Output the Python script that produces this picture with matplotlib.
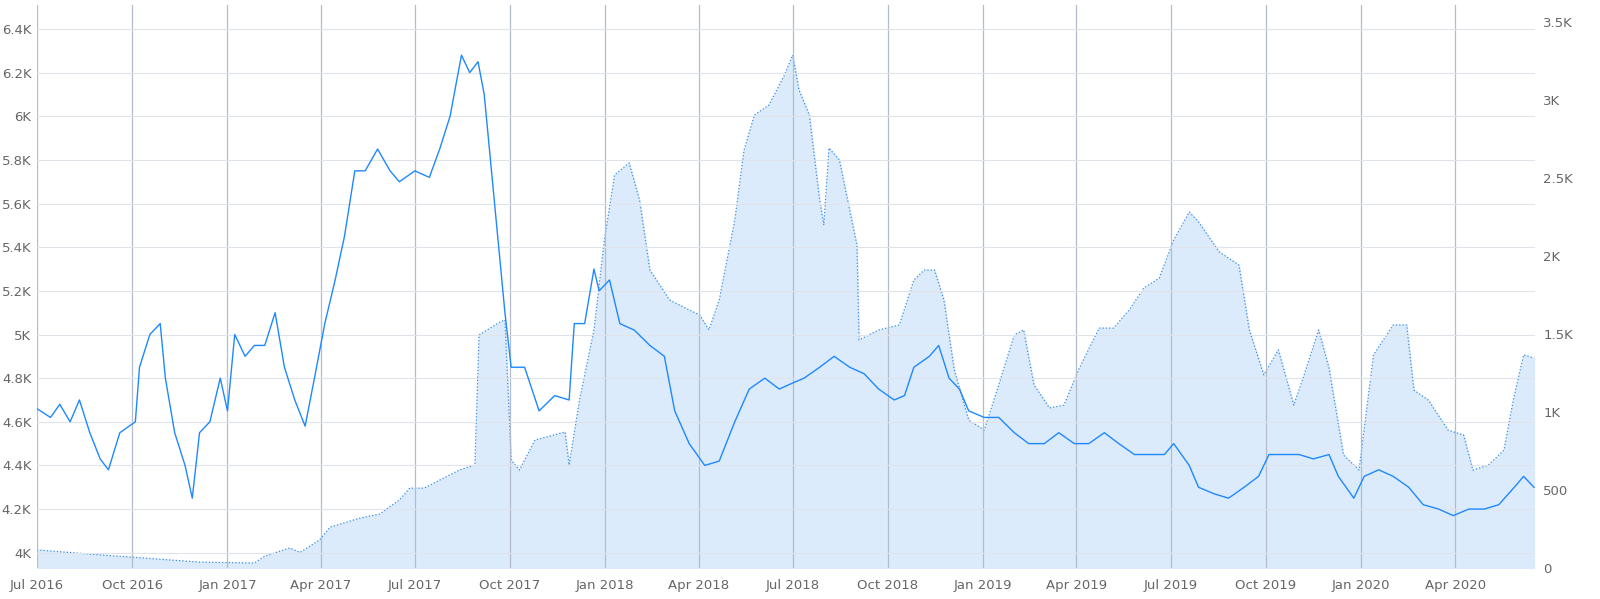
import pandas as pd
import matplotlib.pyplot as plt
import matplotlib.dates as mdates
from matplotlib.ticker import FuncFormatter

start = pd.Timestamp('2016-07-01')

# linha (eixo esquerdo)
dias_linha = [0, 13, 22, 32, 41, 51, 61, 69, 80, 95,
              99, 109, 119, 124, 133, 143, 150, 157, 167, 177,
              184, 191, 201, 210, 220, 230, 239, 249, 259, 268,
              278, 288, 297, 307, 317, 329, 341, 350, 365, 379,
              389, 399, 410, 418, 426, 432, 442, 452, 458, 471,
              485, 500, 514, 519, 529, 538, 543, 553, 563, 577,
              592, 606, 616, 630, 645, 659, 674, 688, 703, 717,
              731, 741, 756, 770, 785, 799, 813, 828, 838, 847,
              862, 871, 881, 891, 900, 915, 929, 944, 958, 973,
              987, 1002, 1016, 1031, 1045, 1060, 1074, 1089, 1098, 1113,
              1122, 1137, 1151, 1166, 1180, 1190, 1204, 1219, 1233, 1248,
              1257, 1272, 1282, 1296, 1310, 1325, 1339, 1354, 1368, 1383,
              1398, 1412, 1427, 1436, 1446]
valores_linha = [4.66, 4.62, 4.68, 4.6, 4.7, 4.55, 4.43, 4.38, 4.55, 4.6,
                 4.85, 5.0, 5.05, 4.8, 4.55, 4.4, 4.25, 4.55, 4.6, 4.8,
                 4.65, 5.0, 4.9, 4.95, 4.95, 5.1, 4.85, 4.7, 4.58, 4.8,
                 5.05, 5.25, 5.45, 5.75, 5.75, 5.85, 5.75, 5.7, 5.75, 5.72,
                 5.85, 6.0, 6.28, 6.2, 6.25, 6.1, 5.6, 5.1, 4.85, 4.85,
                 4.65, 4.72, 4.7, 5.05, 5.05, 5.3, 5.2, 5.25, 5.05, 5.02,
                 4.95, 4.9, 4.65, 4.5, 4.4, 4.42, 4.6, 4.75, 4.8, 4.75,
                 4.78, 4.8, 4.85, 4.9, 4.85, 4.82, 4.75, 4.7, 4.72, 4.85,
                 4.9, 4.95, 4.8, 4.75, 4.65, 4.62, 4.62, 4.55, 4.5, 4.5,
                 4.55, 4.5, 4.5, 4.55, 4.5, 4.45, 4.45, 4.45, 4.5, 4.4,
                 4.3, 4.27, 4.25, 4.3, 4.35, 4.45, 4.45, 4.45, 4.43, 4.45,
                 4.35, 4.25, 4.35, 4.38, 4.35, 4.3, 4.22, 4.2, 4.17, 4.2,
                 4.2, 4.22, 4.3, 4.35, 4.3]

# area (eixo direito)
dias_area = [0, 61, 157, 210, 220, 244, 254, 273, 283, 312,
             331, 350, 360, 374, 389, 408, 423, 427, 447, 452,
             458, 466, 481, 510, 514, 524, 538, 548, 558, 572,
             582, 592, 611, 630, 640, 649, 659, 674, 683, 693,
             707, 722, 730, 736, 746, 756, 760, 765, 775, 785,
             792, 794, 813, 833, 847, 857, 867, 876, 886, 900,
             915, 929, 944, 953, 963, 978, 992, 1006, 1026, 1040,
             1055, 1069, 1084, 1098, 1113, 1122, 1142, 1161, 1171, 1185,
             1199, 1214, 1224, 1238, 1248, 1262, 1277, 1291, 1310, 1323,
             1330, 1344, 1363, 1378, 1387, 1402, 1417, 1426, 1436, 1446]
valores_area = [116, 84, 38, 32, 76, 128, 100, 180, 262, 320,
                346, 436, 512, 512, 564, 628, 660, 1494, 1576, 1590,
                692, 628, 820, 872, 660, 1076, 1526, 2102, 2520, 2596,
                2358, 1910, 1718, 1654, 1622, 1526, 1718, 2230, 2680, 2904,
                2968, 3160, 3288, 3064, 2904, 2358, 2198, 2692, 2616, 2294,
                2070, 1462, 1526, 1558, 1846, 1910, 1910, 1718, 1270, 948,
                884, 1174, 1494, 1526, 1174, 1026, 1044, 1270, 1538, 1538,
                1654, 1794, 1858, 2102, 2282, 2218, 2026, 1942, 1526, 1238,
                1398, 1044, 1238, 1526, 1282, 724, 628, 1366, 1558, 1558,
                1140, 1076, 884, 852, 628, 660, 756, 1076, 1366, 1346]

datas_linha = start + pd.to_timedelta(dias_linha, unit='D')
datas_area = start + pd.to_timedelta(dias_area, unit='D')

fig = plt.figure(figsize=(16, 5.99), dpi=100)
ax = fig.add_axes([37/1600, 31/599, (1535-37)/1600, (568-5)/599])
ax2 = ax.twinx()

ax2.fill_between(datas_area, valores_area, color='#dcebfb', zorder=1)
ax2.plot(datas_area, valores_area, color='#3a8ee6', linestyle=':', linewidth=0.9, zorder=2)
ax2.set_ylim(0, 3609)
ax2.set_yticks([0, 500, 1000, 1500, 2000, 2500, 3000, 3500])
ax2.yaxis.set_major_formatter(FuncFormatter(lambda v, p: '0' if v == 0 else (f'{v/1000:g}K' if v >= 1000 else f'{v:g}')))

ax.set_zorder(ax2.get_zorder() + 1)
ax.patch.set_visible(False)
ax.plot(datas_linha, valores_linha, color='#1e88ff', linewidth=1.0)
ax.set_ylim(3.93, 6.51)
ax.set_yticks([4 + 0.2*i for i in range(13)])
ax.yaxis.set_major_formatter(FuncFormatter(lambda v, p: f'{round(v, 1):g}K'))
ax.set_xlim(start, start + pd.Timedelta(days=1447))
ax.xaxis.set_major_locator(mdates.MonthLocator(bymonth=[1, 4, 7, 10]))
ax.xaxis.set_major_formatter(mdates.DateFormatter('%b %Y'))

ax.grid(axis='y', color='#dfe3ea', linewidth=0.8)
ax.grid(axis='x', color='#b4bccb', linewidth=0.9)
ax.set_axisbelow(True)
for a in (ax, ax2):
    for s in a.spines.values():
        s.set_visible(False)
    a.tick_params(length=0, labelsize=9.5, labelcolor='#666666')
ax.tick_params(axis='y', pad=4)
ax.tick_params(axis='x', pad=8)
ax2.tick_params(axis='y', pad=6)

plt.savefig('out.png', dpi=100)
